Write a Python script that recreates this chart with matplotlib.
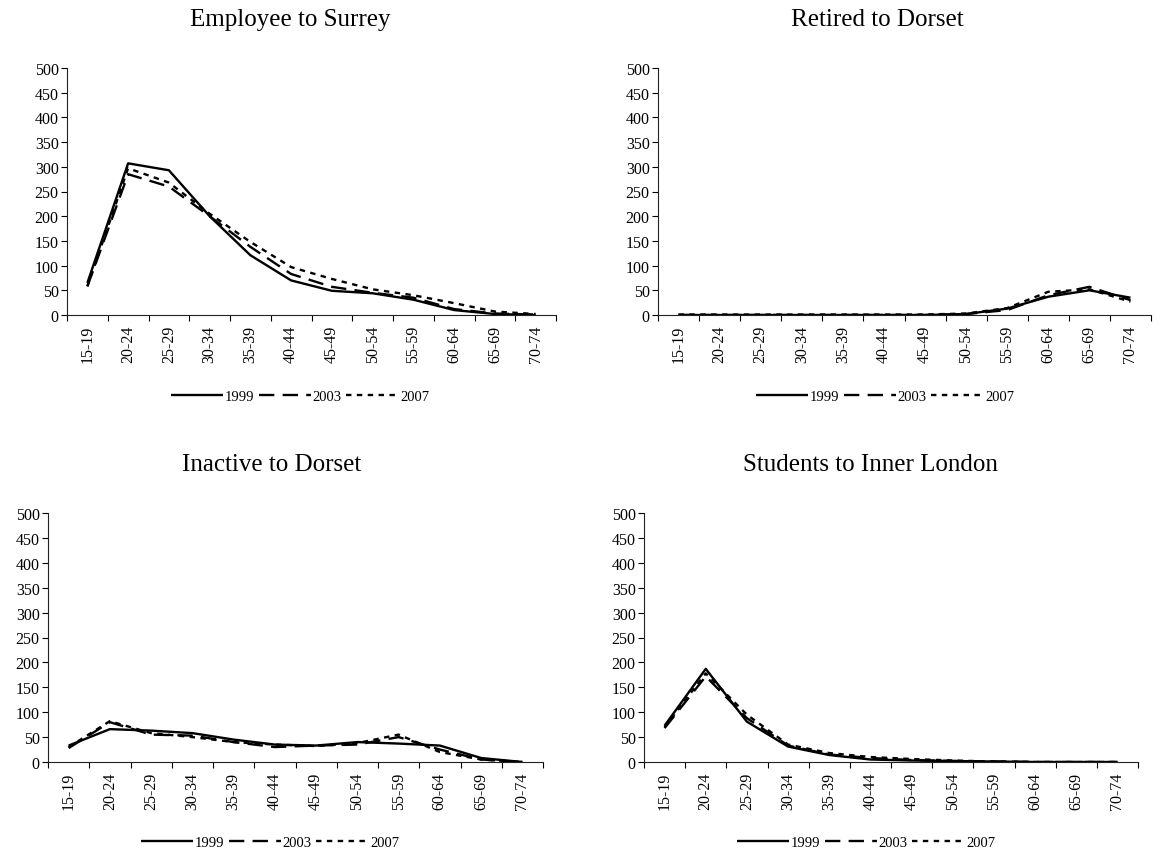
import matplotlib
matplotlib.use("Agg")
import matplotlib.pyplot as plt
from matplotlib.ticker import FixedLocator, NullFormatter, FixedFormatter
import numpy as np

plt.rcParams['font.family'] = ['Liberation Serif', 'DejaVu Serif']

age_groups = ["15-19", "20-24", "25-29", "30-34", "35-39", "40-44",
              "45-49", "50-54", "55-59", "60-64", "65-69", "70-74"]
years = ["1999", "2003", "2007"]

# Employee to Surrey
employee_1999 = [65, 307, 293, 200, 121, 70, 49, 44, 31, 10, 2, 0]
employee_2003 = [58, 285, 260, 200, 138, 83, 57, 45, 35, 12, 3, 1]
employee_2007 = [58, 297, 268, 205, 148, 97, 73, 52, 40, 24, 7, 2]

# Retired to Dorset
retired_1999 = [0, 0, 0, 0, 0, 0, 0, 2, 13, 37, 50, 35]
retired_2003 = [0, 0, 0, 0, 0, 0, 0, 2, 10, 40, 57, 30]
retired_2007 = [1, 1, 1, 1, 1, 1, 1, 3, 14, 47, 52, 27]

# Inactive to Dorset
inactive_1999 = [33, 66, 63, 58, 45, 35, 33, 40, 37, 33, 8, 0]
inactive_2003 = [28, 80, 55, 53, 40, 30, 33, 35, 50, 25, 5, 0]
inactive_2007 = [30, 82, 58, 50, 40, 35, 32, 38, 55, 20, 5, 0]

# Students to Inner London
students_1999 = [73, 187, 81, 31, 14, 5, 3, 2, 1, 0, 0, 0]
students_2003 = [68, 172, 88, 33, 15, 8, 4, 2, 1, 0, 0, 0]
students_2007 = [70, 178, 95, 35, 18, 10, 6, 3, 1, 0, 0, 0]

W, H = 1170, 853

# (title, series, axes box in pixels [left, top, right, bottom],
#  title centre x, legend centre (x, y) in pixels)
panels = [
    ("Employee to Surrey", [employee_1999, employee_2003, employee_2007],
     [67, 69, 556, 316], 290, (300, 397)),
    ("Retired to Dorset", [retired_1999, retired_2003, retired_2007],
     [658, 69, 1151, 316], 877, (885, 397)),
    ("Inactive to Dorset", [inactive_1999, inactive_2003, inactive_2007],
     [48, 514, 543, 763], 272, (270, 843)),
    ("Students to Inner London", [students_1999, students_2003, students_2007],
     [644, 514, 1138, 763], 870, (866, 843)),
]

styles = [
    dict(linestyle="-"),
    dict(linestyle=(0, (6.5, 3.5))),
    dict(linestyle=(0, (2.3, 2.3))),
]

fig = plt.figure(figsize=(W / 100, H / 100), dpi=100)

for title, series, box, title_x, leg_xy in panels:
    l, t, r, b = box
    rect = [l / W, 1 - b / H, (r - l) / W, (b - t) / H]
    ax = fig.add_axes(rect)
    x = np.arange(len(age_groups))
    handles = []
    for vals, st, yr in zip(series, styles, years):
        h, = ax.plot(x, vals, color="black", linewidth=1.7, label=yr,
                     solid_capstyle="butt", dash_capstyle="butt", **st)
        handles.append(h)
    ax.set_xlim(-0.5, len(age_groups) - 0.5)
    ax.set_ylim(0, 500)
    ax.set_yticks(np.arange(0, 501, 50))
    ax.tick_params(axis="y", direction="out", length=4, width=0.8,
                   labelsize=11.5, pad=2, colors="black")
    # tick marks on category boundaries, labels at category centres
    ax.xaxis.set_major_locator(FixedLocator(np.arange(-0.5, len(age_groups), 1.0)))
    ax.xaxis.set_major_formatter(NullFormatter())
    ax.xaxis.set_minor_locator(FixedLocator(x))
    ax.xaxis.set_minor_formatter(FixedFormatter(age_groups))
    ax.tick_params(axis="x", which="major", direction="out", length=4, width=0.8)
    ax.tick_params(axis="x", which="minor", length=0, labelsize=11.5, pad=7,
                   labelrotation=90)
    for side in ("top", "right"):
        ax.spines[side].set_visible(False)
    for side in ("left", "bottom"):
        ax.spines[side].set_linewidth(0.8)
        ax.spines[side].set_color("#222222")

    fig.text(title_x / W, 1 - (t - 49) / H, title, ha="center",
             va="center", fontsize=18)

    lx, ly = leg_xy
    fig.legend(handles=handles, loc="center",
               bbox_to_anchor=(lx / W, 1 - ly / H),
               ncol=3, frameon=False, fontsize=10.5, handlelength=3.6,
               handletextpad=0.1, columnspacing=0.3, borderaxespad=0,
               borderpad=0)

fig.savefig("out.png", dpi=100, facecolor="white")
